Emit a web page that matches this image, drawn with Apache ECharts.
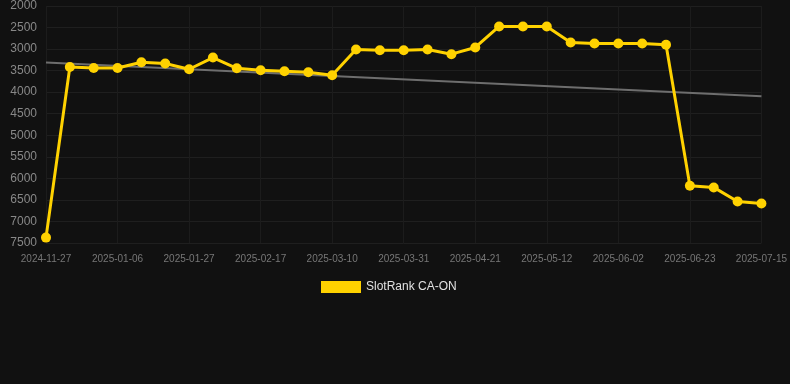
<!DOCTYPE html>
<html>
<head>
<meta charset="utf-8">
<script src="https://cdn.jsdelivr.net/npm/echarts@6/dist/echarts.min.js"></script>
<style>
  html, body { margin: 0; padding: 0; background: #111111; }
  #chart { width: 790px; height: 384px; }
</style>
</head>
<body>
<div id="chart"></div>
<script>
// weekly dates (category axis)
const dates = [
    '2024-11-27', '2024-12-23', '2024-12-30', '2025-01-06', '2025-01-13', '2025-01-20',
    '2025-01-27', '2025-02-03', '2025-02-10', '2025-02-17', '2025-02-24', '2025-03-03',
    '2025-03-10', '2025-03-17', '2025-03-24', '2025-03-31', '2025-04-07', '2025-04-14',
    '2025-04-21', '2025-04-28', '2025-05-05', '2025-05-12', '2025-05-19', '2025-05-26',
    '2025-06-02', '2025-06-09', '2025-06-16', '2025-06-23', '2025-06-30', '2025-07-07',
    '2025-07-15'
];
const rankValues = [
    7375, 3414, 3440, 3440, 3305, 3336,
    3468, 3196, 3445, 3491, 3514, 3538,
    3608, 3009, 3025, 3025, 3009, 3118,
    2963, 2474, 2474, 2474, 2846, 2869,
    2869, 2869, 2901, 6171, 6210, 6536,
    6583
];
// trend line end points (first and last category)
const trendValues = [3312, 4097];
const yTicks = { min: 2000, max: 7500, step: 500 };

const chart = echarts.init(document.getElementById('chart'));

const option = {
    backgroundColor: '#111111',
    animation: false,
    grid: {
        left: 46,
        right: 28,
        top: 6,
        bottom: 141
    },
    legend: {
        show: true,
        top: 276,
        left: 316,
        itemWidth: 40,
        itemHeight: 12,
        itemGap: 10,
        data: [{ name: 'SlotRank CA-ON', icon: 'rect' }],
        textStyle: { color: '#e0e0e0', fontSize: 12, fontFamily: 'Liberation Sans, Arial, sans-serif' }
    },
    xAxis: {
        type: 'category',
        data: dates,
        boundaryGap: false,
        axisLine: { show: false },
        axisTick: { show: false },
        axisLabel: {
            interval: 2,
            color: '#777',
            fontSize: 10,
            margin: 11,
            fontFamily: 'Liberation Sans, Arial, sans-serif'
        },
        splitLine: {
            show: true,
            interval: 2,
            lineStyle: { color: '#1c1c1c', width: 1 }
        }
    },
    yAxis: {
        type: 'value',
        inverse: true,
        min: yTicks.min,
        max: yTicks.max,
        interval: yTicks.step,
        axisLine: { show: false },
        axisTick: { show: false },
        axisLabel: {
            color: '#888',
            fontSize: 12,
            margin: 9,
            formatter: (v) => String(v),
            fontFamily: 'Liberation Sans, Arial, sans-serif'
        },
        splitLine: {
            show: true,
            lineStyle: { color: '#1f1f1f', width: 1 }
        }
    },
    series: [
        {
            name: 'trend',
            type: 'line',
            data: [[0, trendValues[0]], [dates.length - 1, trendValues[1]]],
            symbol: 'none',
            lineStyle: { color: '#6e6e6e', width: 2 },
            silent: true,
            z: 1
        },
        {
            name: 'SlotRank CA-ON',
            type: 'line',
            data: rankValues,
            symbol: 'circle',
            symbolSize: 10,
            itemStyle: { color: '#ffd200' },
            lineStyle: { color: '#ffd200', width: 3 },
            z: 2
        }
    ]
};

chart.setOption(option);
</script>
</body>
</html>
